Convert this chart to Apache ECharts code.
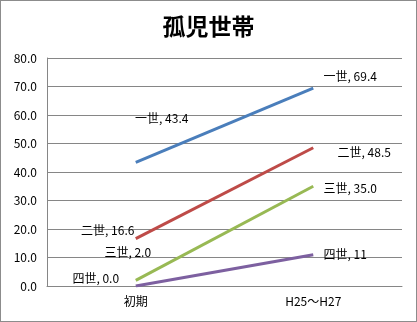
<!DOCTYPE html>
<html><head><meta charset="utf-8">
<script src="https://cdn.jsdelivr.net/npm/echarts@6/dist/echarts.min.js"></script>
<style>html,body{margin:0;padding:0;background:#fff}#c{width:417px;height:322px;box-sizing:border-box;border:1px solid #8c8c8c;}</style>
</head><body><div id="c"></div>
<script>
const categories = ['初期', 'H25～H27'];
const seriesNames = ['一世', '二世', '三世', '四世'];
const isseiValues = [43.4, 69.4];
const niseiValues = [16.6, 48.5];
const sanseiValues = [2.0, 35.0];
const yonseiValues = [0.0, 11];
const decimals = [[1, 1], [1, 1], [1, 1], [1, 0]];
const yTicks = [0, 10, 20, 30, 40, 50, 60, 70, 80];

const colors = ['#4A7EBB', '#BE4B48', '#98B954', '#7D60A0'];
const labelOffsets = [
  [[26, -44], [37, -12]],
  [[-28, -8], [51, 5]],
  [[-8, -28], [37, 2]],
  [[-40, -8], [32, 0]]
];
const allValues = [isseiValues, niseiValues, sanseiValues, yonseiValues];

const chart = echarts.init(document.getElementById('c'), null, {renderer: 'canvas'});
const font = '"Noto Sans CJK JP", "Noto Sans", sans-serif';
chart.setOption({
  animation: false,
  title: {
    text: '孤児世帯', left: 'center', top: 9,
    textStyle: {fontSize: 23, fontWeight: 'bold', color: '#000', fontFamily: font}
  },
  grid: {left: 46, right: 14, top: 57, bottom: 35, containLabel: false},
  xAxis: {
    type: 'category', data: categories, boundaryGap: true,
    axisLine: {lineStyle: {color: '#868686'}},
    axisTick: {show: false},
    axisLabel: {color: '#000', fontSize: 12, fontFamily: font, margin: 9}
  },
  yAxis: {
    type: 'value', min: yTicks[0], max: yTicks[yTicks.length - 1], interval: 10,
    axisLine: {show: true, lineStyle: {color: '#868686'}},
    axisTick: {show: false},
    splitLine: {lineStyle: {color: '#868686'}},
    axisLabel: {color: '#000', fontSize: 12, fontFamily: font, margin: 10,
      formatter: v => v.toFixed(1)}
  },
  series: seriesNames.map((name, si) => ({
    name, type: 'line',
    data: allValues[si].map((v, i) => ({
      value: v,
      label: {offset: labelOffsets[si][i]}
    })),
    symbol: 'circle', symbolSize: 0, showSymbol: true,
    itemStyle: {color: colors[si]},
    lineStyle: {color: colors[si], width: 3},
    label: {
      show: true, position: 'inside', color: '#000', fontSize: 12, fontFamily: font,
      formatter: p => name + ', ' + p.value.toFixed(decimals[si][p.dataIndex])
    }
  }))
});
</script></body></html>
